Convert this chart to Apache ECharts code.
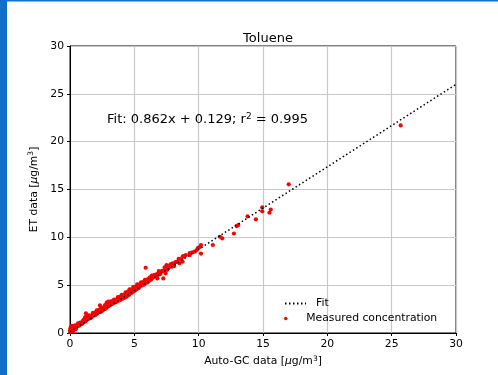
<!DOCTYPE html>
<html><head><meta charset="utf-8">
<script src="https://cdn.jsdelivr.net/npm/echarts@6/dist/echarts.min.js"></script>
<style>html,body{margin:0;padding:0;background:#fff;}#c{width:498px;height:375px;}</style>
</head><body><div id="c"></div>
<script>
// Measured concentration: Auto-GC (x) vs ET (y)
const measuredX = [0.05,0.08,0.1,0.12,0.15,0.18,0.2,0.22,0.25,0.3,0.32,0.35,0.4,0.42,0.45,0.5,0.55,0.58,0.6,0.65,0.7,0.72,0.75,0.8,0.85,0.88,0.9,0.95,1.0,1.02,1.05,1.1,1.15,1.2,1.24,1.25,1.28,1.3,1.35,1.4,1.45,1.5,1.55,1.6,1.65,1.7,1.75,1.8,1.85,1.9,1.95,2.0,2.05,2.1,2.15,2.2,2.25,2.33,2.35,2.4,2.45,2.5,2.55,2.6,2.65,2.7,2.75,2.8,2.85,2.9,2.95,2.98,3.0,3.05,3.1,3.15,3.2,3.25,3.3,3.35,3.4,3.45,3.5,3.55,3.6,3.65,3.7,3.75,3.8,3.85,3.9,3.95,4.0,4.05,4.1,4.15,4.2,4.25,4.3,4.35,4.4,4.45,4.5,4.55,4.6,4.65,4.7,4.75,4.8,4.85,4.9,4.95,5.0,5.05,5.1,5.15,5.2,5.3,5.35,5.4,5.5,5.55,5.6,5.7,5.75,5.8,5.88,5.9,6.0,6.05,6.1,6.2,6.25,6.3,6.4,6.5,6.6,6.7,6.79,6.85,6.95,7.0,7.1,7.25,7.3,7.43,7.5,7.55,7.64,7.7,7.77,7.9,7.98,8.1,8.29,8.34,8.5,8.64,8.75,8.75,8.8,9.0,9.3,9.3,9.7,9.84,10.1,10.18,10.18,11.1,11.65,11.83,12.74,12.95,13.08,13.8,14.45,14.94,14.94,15.5,15.6,17.0,25.7,
  0.02,0.06,0.14,0.28,0.38,0.48,0.62,0.78,0.92,1.08,1.18,1.38,1.48,1.62,1.78,1.92,2.08,2.28,2.42,2.58,2.72,2.88,3.02,3.18,3.28,3.42,3.58,3.72,3.88,4.02,4.18,4.32,4.48,4.62,4.78,4.92,5.08,5.22,5.38,5.52,5.68,5.82,6.02,6.18,6.35,6.55,6.75,6.9,7.15,7.35,7.6,7.85,8.2,8.45,8.9,9.5,9.95,
  0.0,0.03,0.09,0.2,0.26,0.34,0.44];
const measuredY = [0.25,0.66,0.45,0.2,0.75,0.35,0.3,0.55,0.4,0.5,0.38,0.6,0.55,0.48,0.7,0.62,0.68,0.8,0.72,0.75,0.85,0.95,0.8,0.92,1.05,0.95,1.1,1.0,1.15,1.3,1.1,1.25,1.35,1.2,2.06,1.5,1.7,1.4,1.55,1.45,1.65,1.6,1.75,1.55,1.8,1.7,1.95,1.8,1.9,2.05,1.85,2.1,2.25,2.0,2.3,2.15,2.4,2.9,2.5,2.2,2.45,2.6,2.35,2.55,2.7,2.5,2.8,2.6,3.17,2.75,2.9,3.27,2.8,3.05,2.9,3.1,3.0,3.2,3.05,3.25,3.15,3.35,3.2,3.4,3.25,3.45,3.35,3.5,3.4,3.6,3.45,3.65,3.55,3.7,3.6,3.8,3.65,3.85,3.75,3.95,3.8,4.05,4.2,3.95,4.3,4.1,4.25,4.4,4.2,4.45,4.35,4.5,4.4,4.6,4.5,4.75,4.6,4.8,4.7,4.95,4.9,5.1,5.0,5.2,5.05,5.3,6.82,5.25,5.4,5.3,5.55,5.5,5.7,5.6,5.75,5.85,5.95,6.0,5.7,6.1,6.3,6.15,6.4,5.7,6.5,6.24,7.1,6.6,6.76,6.9,7.1,6.93,7.28,7.0,7.45,7.45,7.3,7.7,7.97,7.45,8.04,8.15,8.35,8.15,8.5,8.67,9.0,9.2,8.3,9.2,10.06,9.9,10.4,11.18,11.28,12.2,11.88,13.13,12.72,12.57,12.9,15.54,21.7,
  0.25,0.4,0.6,0.65,0.8,0.65,1.0,1.1,1.0,1.4,1.65,1.62,1.85,1.73,2.1,2.02,2.38,2.4,2.65,2.55,2.92,3.1,3.03,3.32,3.3,3.48,3.47,3.75,3.78,4.0,3.98,4.25,4.3,4.55,4.55,4.82,4.8,5.08,5.07,5.3,5.33,5.55,5.62,5.8,6.0,6.08,6.15,6.48,6.5,6.85,6.88,7.2,7.4,7.75,8.0,8.42,8.9,
  0.1,0.5,0.3,0.6,0.2,0.45,0.4];
// Fit line end points (0.862x + 0.129)
const fitX = [0, 30];
const fitY = [0.129, 25.989];
const xTicks = [0, 5, 10, 15, 20, 25, 30];
const yTicks = [0, 5, 10, 15, 20, 25, 30];

const FONT = 'DejaVu Sans';
const chart = echarts.init(document.getElementById('c'), null, {renderer: 'canvas'});
const scatterData = measuredX.map((x, i) => [x, measuredY[i]]);
const fitData = fitX.map((x, i) => [x, fitY[i]]);
const supRich = {
  i: {fontFamily: FONT, fontSize: 10.8, fontStyle: 'italic', color: '#000'},
  s: {fontFamily: FONT, fontSize: 7.5, verticalAlign: 'top', color: '#000', padding: [0, 0, 5, 0]},
  n: {fontFamily: FONT, fontSize: 10.8, color: '#000'}
};
const axisCommon = {
  type: 'value', min: 0, max: 30, interval: 5,
  axisLine: {show: true, onZero: false, lineStyle: {color: '#000', width: 1}},
  axisTick: {show: true, inside: false, length: 3, lineStyle: {color: '#000', width: 1}},
  splitLine: {show: true, lineStyle: {color: '#c8c8c8', width: 1.2}},
  axisLabel: {color: '#000', fontFamily: FONT, fontSize: 10.8, margin: 6,
    formatter: v => String(v)}
};
chart.setOption({
  animation: false,
  backgroundColor: '#fff',
  title: {text: 'Toluene', left: 263, top: 27, textAlign: 'center',
    textStyle: {fontFamily: FONT, fontSize: 13, fontWeight: 'normal', color: '#000'}},
  grid: {left: 70, right: 42, top: 46, bottom: 42, show: true, borderColor: '#000', borderWidth: 1, backgroundColor: '#fff'},
  xAxis: Object.assign({}, axisCommon, {
    name: '{n|Auto-GC data [}{i|μ}{n|g/m}{s|3}{n|]}', nameLocation: 'middle', nameGap: 21,
    nameTextStyle: {rich: supRich}
  }),
  yAxis: Object.assign({}, axisCommon, {
    name: '{n|ET data [}{i|μ}{n|g/m}{s|3}{n|]}', nameLocation: 'middle', nameGap: 28,
    nameTextStyle: {rich: supRich}
  }),
  legend: [
    {data: [{name: 'Fit', itemStyle: {opacity: 0}}], left: 284, top: 298, itemWidth: 21, itemHeight: 10, padding: 0,
      textStyle: {fontFamily: FONT, fontSize: 10.8, color: '#000', padding: [0, 0, 0, 5]}},
    {data: [{name: 'Measured concentration', icon: 'circle'}], left: 284, top: 313, itemWidth: 21, itemHeight: 3.5, padding: 0,
      textStyle: {fontFamily: FONT, fontSize: 10.8, color: '#000', padding: [0, 0, 0, 5]}}
  ],
  graphic: [
    {type: 'rect', left: 0, top: 0, shape: {width: 7, height: 375}, style: {fill: '#1170c9'}, z: 100},
    {type: 'rect', left: 0, top: 0, shape: {width: 498, height: 1.5}, style: {fill: '#1170c9'}, z: 100},
    {type: 'text', left: 107, top: 112, z: 100,
      style: {text: 'Fit: 0.862x + 0.129; r{s|2} = 0.995', font: '13px "DejaVu Sans"', fill: '#000',
        rich: {s: {fontFamily: FONT, fontSize: 9, verticalAlign: 'top', padding: [0, 0, 6, 0], fill: '#000'}}}}
  ],
  series: [
    {name: 'Fit', type: 'line', data: fitData, showSymbol: false, symbol: 'none', z: 3,
      lineStyle: {color: '#000', width: 1.5, type: [1.5, 2.5]}, itemStyle: {color: '#000'}},
    {name: 'Measured concentration', type: 'scatter', data: scatterData, symbol: 'circle', symbolSize: 4.2, z: 2,
      itemStyle: {color: '#ff0000', opacity: 1}}
  ]
});
</script></body></html>
